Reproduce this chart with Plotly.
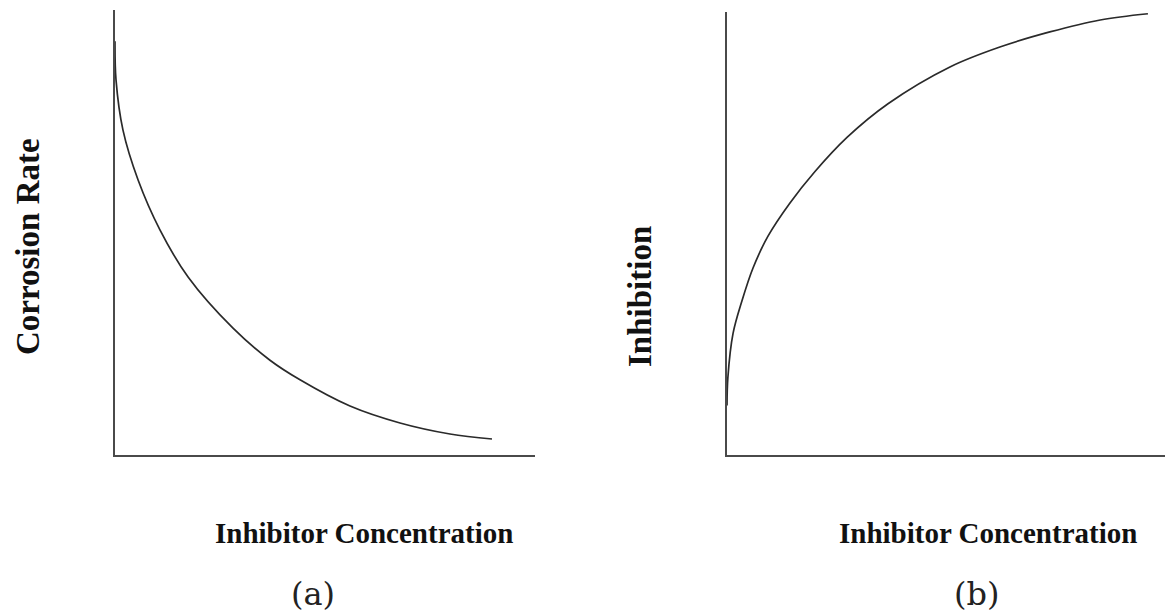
import plotly.graph_objects as go

# Panel (a): corrosion rate vs inhibitor concentration (arbitrary units)
conc_a = [0, 0.24, 1.9, 5.5, 10.7, 17.4, 28.1, 36.9, 44.05, 55.95, 67.86, 79.76, 89.76]
rate_a = [93.0, 84.3, 73.0, 61.8, 50.6, 40.0, 28.5, 21.3, 16.9, 11.0, 7.19, 4.72, 3.6]

# Panel (b): inhibition vs inhibitor concentration (arbitrary units)
conc_b = [0, 0.2, 1.37, 3.42, 5.94, 9.36, 14.38, 20.09, 27.4, 36.76, 50.9, 62.3, 73.7, 85.2, 96.1]
inhib_b = [11.2, 17.5, 27.4, 34.8, 42.2, 49.4, 56.9, 64.0, 71.7, 79.3, 87.6, 92.1, 95.5, 98.2, 99.6]

y_label_a = "Corrosion Rate"
y_label_b = "Inhibition"
x_label = "Inhibitor Concentration"
panel_tags = ["(a)", "(b)"]

W, H = 1165, 612
fig = go.Figure()
line_style = dict(color="#2a2a2a", width=1.7, shape="spline", smoothing=1.0)
fig.add_trace(go.Scatter(x=conc_a, y=rate_a, mode="lines", line=line_style,
                         xaxis="x", yaxis="y", showlegend=False, hoverinfo="skip"))
fig.add_trace(go.Scatter(x=conc_b, y=inhib_b, mode="lines", line=line_style,
                         xaxis="x2", yaxis="y2", showlegend=False, hoverinfo="skip"))

def px_x(p):
    return p / W

def px_y(p):
    return 1 - p / H

axis_common = dict(showline=True, linecolor="#4a4a4a", linewidth=2.2, showgrid=False,
                   zeroline=False, showticklabels=False, ticks="", range=[0, 100], fixedrange=True)

fig.update_layout(
    width=W, height=H,
    margin=dict(l=0, r=0, t=0, b=0),
    paper_bgcolor="white", plot_bgcolor="white",
    xaxis=dict(domain=[px_x(115), px_x(535)], anchor="y", **axis_common),
    yaxis=dict(domain=[px_y(455), px_y(10)], anchor="x", **axis_common),
    xaxis2=dict(domain=[px_x(727), px_x(1165)], anchor="y2", **axis_common),
    yaxis2=dict(domain=[px_y(455), px_y(12)], anchor="x2", **axis_common),
)

label_font = dict(family="Liberation Serif, Times New Roman, serif", size=29, color="#111111")
tag_font = dict(family="DejaVu Serif, serif", size=32, color="#222222")

annos = [
    dict(text="<b>%s</b>" % y_label_a, x=px_x(28), y=px_y(247), textangle=-90,
         font=dict(label_font, size=33)),
    dict(text="<b>%s</b>" % y_label_b, x=px_x(640), y=px_y(297), textangle=-90,
         font=dict(label_font, size=33)),
    dict(text="<b>%s</b>" % x_label, x=px_x(364), y=px_y(533), font=label_font),
    dict(text="<b>%s</b>" % x_label, x=px_x(988), y=px_y(533), font=label_font),
    dict(text=panel_tags[0], x=px_x(313), y=px_y(594), font=tag_font),
    dict(text=panel_tags[1], x=px_x(976), y=px_y(594), font=tag_font),
]
for a in annos:
    a.update(xref="paper", yref="paper", showarrow=False, xanchor="center", yanchor="middle")
fig.update_layout(annotations=annos)

fig.write_html("out.html", config={"displayModeBar": False},
               post_script="document.body.style.margin='0';document.body.style.overflow='hidden';")
